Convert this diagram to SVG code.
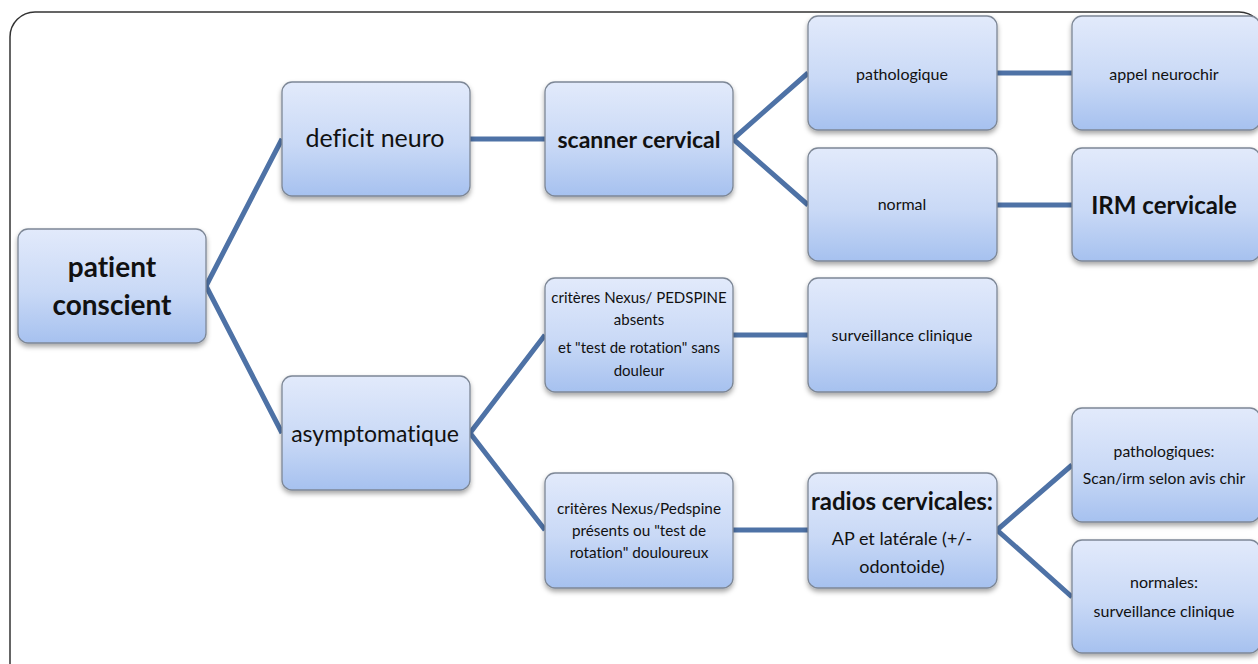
<svg xmlns="http://www.w3.org/2000/svg" width="1258" height="664" viewBox="0 0 1258 664">
<defs>
<linearGradient id="g" x1="0" y1="0" x2="0" y2="1">
<stop offset="0" stop-color="#e2eafb"/>
<stop offset="0.55" stop-color="#c9d9f6"/>
<stop offset="1" stop-color="#a6c1ef"/>
</linearGradient>
<filter id="sh" x="-10%" y="-10%" width="120%" height="130%">
<feDropShadow dx="0" dy="3" stdDeviation="2.5" flood-color="#000" flood-opacity="0.35"/>
</filter>
</defs>
<style>
.box{fill:url(#g);stroke:#7d8796;stroke-width:1.3;filter:url(#sh)}
.c{stroke:#4e72a6;stroke-width:5;fill:none;stroke-linejoin:miter}
text{font-family:Lato,"Open Sans","Liberation Sans",sans-serif;fill:#111;text-anchor:middle;dominant-baseline:central;font-variant-ligatures:none;font-feature-settings:"liga" 0,"dlig" 0,"clig" 0}
.b{font-weight:bold}
.s{font-size:15px}
.xs{font-size:16px}
</style>
<rect x="0" y="0" width="1258" height="664" fill="#fff"/>
<rect x="10" y="12" width="1254" height="700" rx="25" fill="none" stroke="#333" stroke-width="1.5"/>
<g id="connectors">
<path class="c" d="M282 139 L206 286 L282 433"/>
<path class="c" d="M470 139 L545 139"/>
<path class="c" d="M808 73 L733 139 L808 205"/>
<path class="c" d="M997 73 L1072 73"/>
<path class="c" d="M997 205 L1072 205"/>
<path class="c" d="M545 335 L470 433 L545 530"/>
<path class="c" d="M733 335 L808 335"/>
<path class="c" d="M733 530 L808 530"/>
<path class="c" d="M1072 465 L997 530 L1072 597"/>
</g>
<g id="n-patient"><rect class="box" x="18" y="229" width="188" height="114" rx="10"/><text x="112" y="266" class="b" font-size="28">patient</text><text x="112" y="304" class="b" font-size="28">conscient</text></g>
<g id="n-deficit"><rect class="box" x="282" y="82" width="188" height="114" rx="10"/><text x="375" y="137" font-size="25">deficit neuro</text></g>
<g id="n-asympto"><rect class="box" x="282" y="376" width="188" height="114" rx="10"/><text x="375" y="433" font-size="23">asymptomatique</text></g>
<g id="n-scanner"><rect class="box" x="545" y="82" width="188" height="114" rx="10"/><text x="639" y="139" class="b" font-size="23">scanner cervical</text></g>
<g id="n-absents"><rect class="box" x="545" y="278" width="188" height="114" rx="10"/><text x="639" y="297" class="s">critères Nexus/ PEDSPINE</text><text x="639" y="319" class="s">absents</text><text x="639" y="347" class="s">et "test de rotation" sans</text><text x="639" y="370" class="s">douleur</text></g>
<g id="n-presents"><rect class="box" x="545" y="473" width="188" height="115" rx="10"/><text x="639" y="508" font-size="15.3">critères Nexus/Pedspine</text><text x="639" y="530" font-size="15.3">présents ou "test de</text><text x="639" y="552" font-size="15.3">rotation" douloureux</text></g>
<g id="n-patho"><rect class="box" x="808" y="16" width="189" height="114" rx="10"/><text x="902" y="73" class="xs">pathologique</text></g>
<g id="n-normal"><rect class="box" x="808" y="148" width="189" height="113" rx="10"/><text x="902" y="203" class="xs">normal</text></g>
<g id="n-surv"><rect class="box" x="808" y="278" width="189" height="114" rx="10"/><text x="902" y="334" class="xs">surveillance clinique</text></g>
<g id="n-radios"><rect class="box" x="808" y="473" width="189" height="115" rx="10"/><text x="902" y="500" class="b" font-size="24">radios cervicales:</text><text x="902" y="538" font-size="18">AP et latérale (+/-</text><text x="902" y="566" font-size="18">odontoide)</text></g>
<g id="n-appel"><rect class="box" x="1072" y="16" width="188" height="114" rx="10"/><text x="1164" y="73" class="xs">appel neurochir</text></g>
<g id="n-irm"><rect class="box" x="1072" y="148" width="188" height="113" rx="10"/><text x="1164" y="204" class="b" font-size="24">IRM  cervicale</text></g>
<g id="n-pathos"><rect class="box" x="1072" y="408" width="188" height="114" rx="10"/><text x="1164" y="451" font-size="15.7">pathologiques:</text><text x="1164" y="478" font-size="15.7">Scan/irm selon avis chir</text></g>
<g id="n-normales"><rect class="box" x="1072" y="540" width="188" height="113" rx="10"/><text x="1164" y="581" class="xs">normales:</text><text x="1164" y="610" class="xs">surveillance clinique</text></g>
</svg>
